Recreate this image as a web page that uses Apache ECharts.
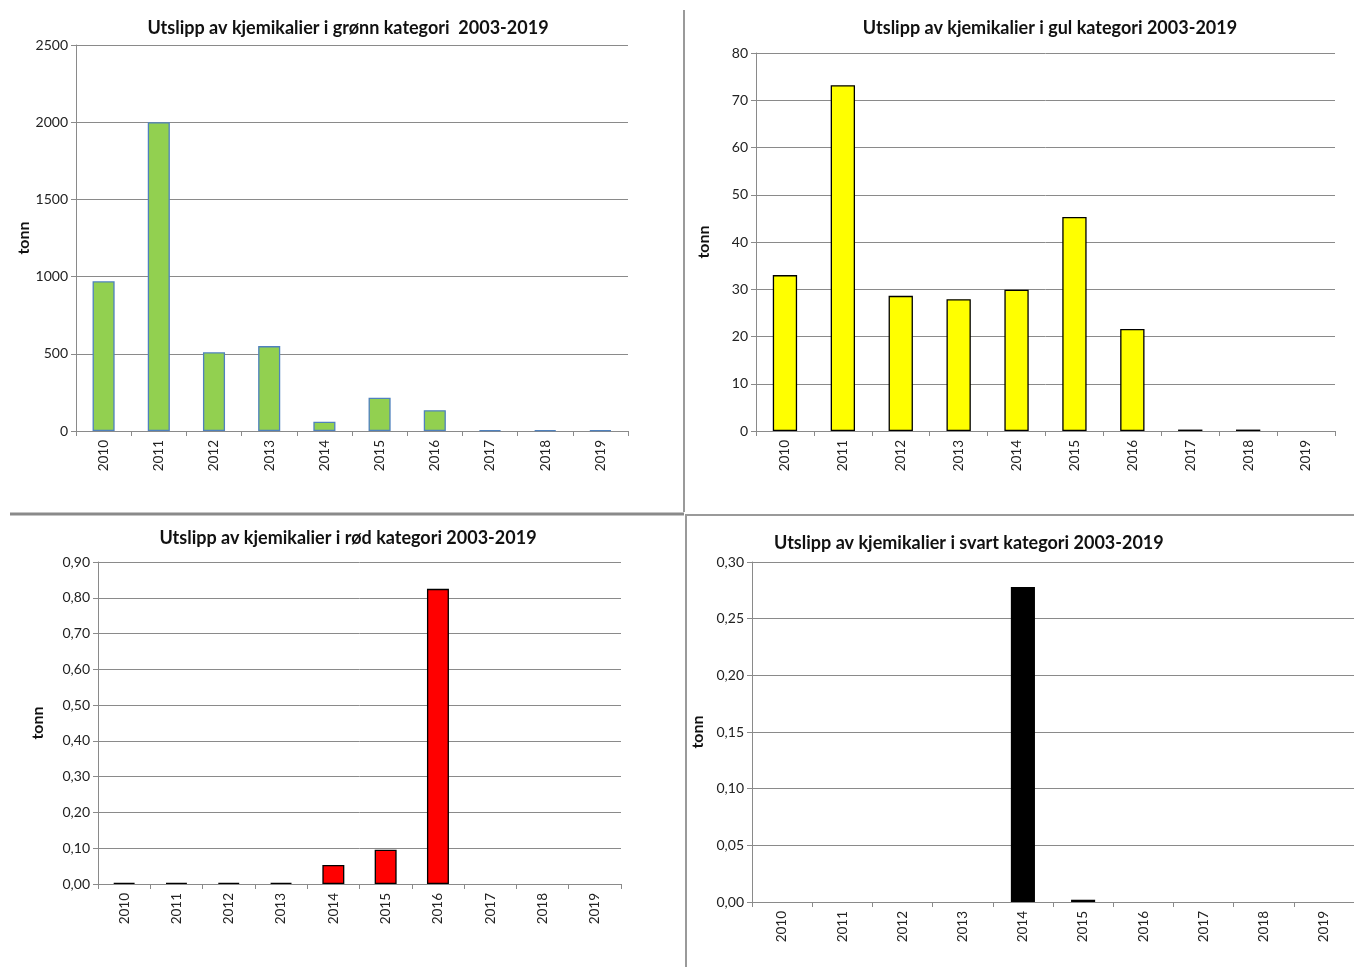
<!DOCTYPE html>
<html>
<head>
<meta charset="utf-8">
<script src="https://cdn.jsdelivr.net/npm/echarts@6/dist/echarts.min.js"></script>
<style>
  html, body { margin: 0; padding: 0; background: #fff; }
  #main { width: 1354px; height: 967px; }
</style>
</head>
<body>
<div id="main"></div>
<script>
// data
const years = ['2010', '2011', '2012', '2013', '2014', '2015', '2016', '2017', '2018', '2019'];
const gronn = [970, 2000, 510, 550, 60, 215, 135, 6, 6, 6];
const gul = [33.0, 73.2, 28.6, 27.9, 29.9, 45.3, 21.6, 0.3, 0.3, 0];
const rod = [0.003, 0.003, 0.003, 0.003, 0.053, 0.096, 0.825, 0, 0, 0];
const svart = [0, 0, 0, 0, 0.278, 0.002, 0, 0, 0, 0];

const titles = [
    'Utslipp av kjemikalier i grønn kategori  2003-2019',
    'Utslipp av kjemikalier i gul kategori 2003-2019',
    'Utslipp av kjemikalier i rød kategori 2003-2019',
    'Utslipp av kjemikalier i svart kategori 2003-2019'
];

const FONT = 'Lato';
const gridColor = '#8a8a8a';

const chart = echarts.init(document.getElementById('main'));

function comma(v) {
    return v.toFixed(2).replace('.', ',');
}

const grids = [
    { left: 76, top: 45, width: 552, height: 386 },
    { left: 756, top: 53, width: 579, height: 378 },
    { left: 98, top: 562, width: 523, height: 322 },
    { left: 752, top: 562, width: 608, height: 340 }
];

const yConf = [
    { max: 2500, interval: 500, fmt: v => String(v), gap: 44 },
    { max: 80, interval: 10, fmt: v => String(v), gap: 44 },
    { max: 0.9, interval: 0.1, fmt: comma, gap: 52 },
    { max: 0.3, interval: 0.05, fmt: comma, gap: 46 }
];

const xAxis = grids.map((g, i) => ({
    type: 'category',
    gridIndex: i,
    data: years,
    axisLine: { lineStyle: { color: gridColor, width: 1 } },
    axisTick: { show: true, length: 5, lineStyle: { color: gridColor } },
    axisLabel: { rotate: 90, color: '#222', fontFamily: FONT, fontSize: 13.5, margin: 9 }
}));

const yAxis = yConf.map((c, i) => ({
    type: 'value',
    gridIndex: i,
    min: 0,
    max: c.max,
    interval: c.interval,
    name: 'tonn',
    nameLocation: 'middle',
    nameRotate: 90,
    nameGap: c.gap,
    nameTextStyle: { fontFamily: FONT, fontWeight: 'bold', fontSize: 16, color: '#111' },
    axisLine: { show: true, lineStyle: { color: gridColor } },
    axisTick: { show: true, length: 5, lineStyle: { color: gridColor } },
    axisLabel: { formatter: c.fmt, color: '#222', fontFamily: FONT, fontSize: 14, margin: 8 },
    splitLine: { lineStyle: { color: gridColor, width: 1 } }
}));

// zero values get no bar at all (no outline on the axis)
const series = [
    { data: gronn, color: '#92d050', border: '#4f81bd', w: '40%' },
    { data: gul, color: '#ffff00', border: '#000', w: '42%' },
    { data: rod, color: '#ff0000', border: '#000', w: '42%' },
    { data: svart, color: '#000000', border: '#000', w: '40%' }
].map((s, i) => ({
    type: 'bar',
    xAxisIndex: i,
    yAxisIndex: i,
    data: s.data.map(v => (v === 0 ? '-' : v)),
    barWidth: s.w,
    itemStyle: { color: s.color, borderColor: s.border, borderWidth: 1.3 }
}));

const titleStyle = { fontFamily: FONT, fontWeight: 'bold', fontSize: 18, color: '#111' };

const option = {
    animation: false,
    textStyle: { fontFamily: FONT },
    title: [
        { text: titles[0], left: 343, top: 14, textAlign: 'center', textStyle: titleStyle },
        { text: titles[1], left: 1045, top: 14, textAlign: 'center', textStyle: titleStyle },
        { text: titles[2], left: 343, top: 524, textAlign: 'center', textStyle: titleStyle },
        { text: titles[3], left: 769, top: 529, textStyle: titleStyle }
    ],
    grid: grids,
    xAxis: xAxis,
    yAxis: yAxis,
    series: series,
    graphic: [
        // panel separators
        { type: 'line', shape: { x1: 684, y1: 10, x2: 684, y2: 512 }, style: { stroke: '#9a9a9a', lineWidth: 2 } },
        { type: 'line', shape: { x1: 10, y1: 514, x2: 684, y2: 514 }, style: { stroke: '#8a8a8a', lineWidth: 3 } },
        { type: 'rect', shape: { x: 686, y: 515, width: 680, height: 470 }, style: { fill: 'none', stroke: '#9a9a9a', lineWidth: 2 } }
    ]
};

chart.setOption(option);
</script>
</body>
</html>
